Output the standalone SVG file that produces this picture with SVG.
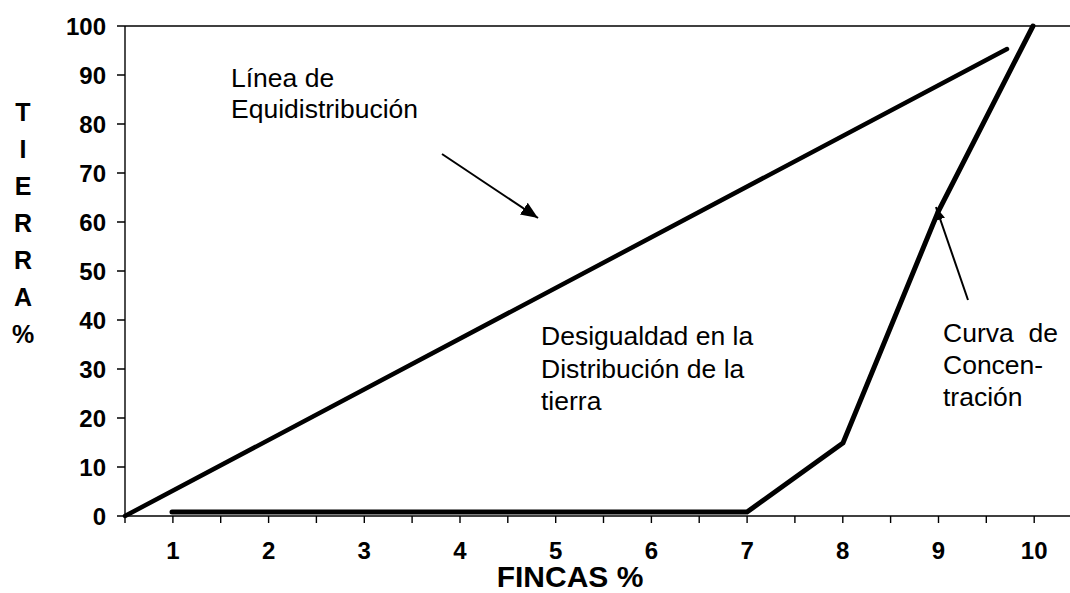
<svg xmlns="http://www.w3.org/2000/svg" width="1070" height="593" viewBox="0 0 1070 593">
<defs>
<style>
.ax{stroke:#000;stroke-width:1.4;fill:none}
.tk{stroke:#000;stroke-width:1.4}
.yl{font-family:"Liberation Sans",Arial,sans-serif;font-weight:bold;font-size:24px;text-anchor:end}
.xl{font-family:"Liberation Sans",Arial,sans-serif;font-weight:bold;font-size:24px;text-anchor:middle}
.yt{font-family:"Liberation Sans",Arial,sans-serif;font-weight:bold;font-size:25px;text-anchor:middle}
.lbl{font-family:"Liberation Sans",Arial,sans-serif;font-size:26.5px;fill:#000}
.series{stroke:#000;fill:none;stroke-linecap:round;stroke-linejoin:miter}
.arr{stroke:#000;stroke-width:2;fill:none}
</style>
<marker id="ah1" markerUnits="userSpaceOnUse" markerWidth="18" markerHeight="14" refX="17" refY="7" orient="auto">
<path d="M0,0 L17,7 L0,14 z" fill="#000"/>
</marker>
<marker id="ah2" markerUnits="userSpaceOnUse" markerWidth="14" markerHeight="10" refX="13" refY="5" orient="auto">
<path d="M0,0 L13,5 L0,10 z" fill="#000"/>
</marker>
</defs>
<rect width="1070" height="593" fill="#fff"/>
<g id="axes">
<line class="ax" x1="117" y1="26" x2="1070" y2="26"/>
<line class="ax" x1="125" y1="26" x2="125" y2="516"/>
<line class="ax" x1="117" y1="516" x2="1070" y2="516"/>
<path class="tk" d="M117,75H125M117,124H125M117,173H125M117,222H125M117,271H125M117,320H125M117,369H125M117,418H125M117,467H125"/>
<path class="tk" d="M125,516V523M172.9,516V523M220.7,516V523M268.6,516V523M316.4,516V523M364.3,516V523M412.1,516V523M460,516V523M507.8,516V523M555.7,516V523M603.5,516V523M651.4,516V523M699.2,516V523M747.1,516V523M794.9,516V523M842.8,516V523M890.6,516V523M938.5,516V523M986.3,516V523M1034.2,516V523"/>
</g>
<g id="y-labels">
<text class="yl" x="106" y="35">100</text>
<text class="yl" x="106" y="84">90</text>
<text class="yl" x="106" y="133">80</text>
<text class="yl" x="106" y="182">70</text>
<text class="yl" x="106" y="231">60</text>
<text class="yl" x="106" y="280">50</text>
<text class="yl" x="106" y="329">40</text>
<text class="yl" x="106" y="378">30</text>
<text class="yl" x="106" y="427">20</text>
<text class="yl" x="106" y="476">10</text>
<text class="yl" x="106" y="525">0</text>
</g>
<g id="x-labels">
<text class="xl" x="172.9" y="559">1</text>
<text class="xl" x="268.6" y="559">2</text>
<text class="xl" x="364.3" y="559">3</text>
<text class="xl" x="460" y="559">4</text>
<text class="xl" x="555.7" y="559">5</text>
<text class="xl" x="651.4" y="559">6</text>
<text class="xl" x="747.1" y="559">7</text>
<text class="xl" x="842.8" y="559">8</text>
<text class="xl" x="938.5" y="559">9</text>
<text class="xl" x="1034.2" y="559">10</text>
</g>
<g id="y-title">
<text class="yt" x="23" y="121">T</text>
<text class="yt" x="23" y="158">I</text>
<text class="yt" x="23" y="195">E</text>
<text class="yt" x="23" y="232">R</text>
<text class="yt" x="23" y="269">R</text>
<text class="yt" x="23" y="306">A</text>
<text class="yt" x="23" y="343">%</text>
</g>
<g id="x-title">
<text x="570" y="587" font-family="'Liberation Sans',Arial,sans-serif" font-weight="bold" font-size="30" text-anchor="middle">FINCAS %</text>
</g>
<g id="equidistribution-line">
<line class="series" stroke-width="4.5" x1="125" y1="516" x2="1007" y2="49"/>
</g>
<g id="concentration-curve">
<polyline class="series" stroke-width="5" points="172,512 747,512 843,443 938,212 1033,26"/>
</g>
<g id="label-equidistribucion">
<text class="lbl" x="231" y="87">Línea de</text>
<text class="lbl" x="231" y="118">Equidistribución</text>
</g>
<g id="label-desigualdad">
<text class="lbl" x="541" y="345">Desigualdad en la</text>
<text class="lbl" x="541" y="378">Distribución de la</text>
<text class="lbl" x="541" y="410">tierra</text>
</g>
<g id="label-curva">
<text class="lbl" x="943" y="342" xml:space="preserve">Curva  de</text>
<text class="lbl" x="943" y="374">Concen-</text>
<text class="lbl" x="943" y="406">tración</text>
</g>
<g id="connectors">
<line class="arr" x1="442" y1="154" x2="538" y2="218" marker-end="url(#ah1)"/>
<line class="arr" x1="968" y1="300" x2="936" y2="207" marker-end="url(#ah2)"/>
</g>
</svg>
